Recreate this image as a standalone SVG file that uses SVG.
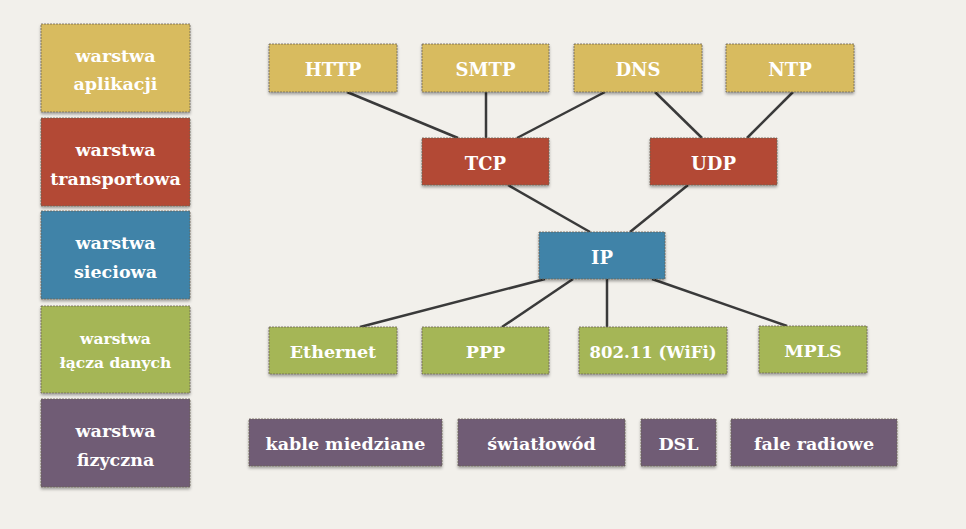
<svg xmlns="http://www.w3.org/2000/svg" width="966" height="529" viewBox="0 0 966 529">
<style>
.n{stroke:#6b6355;stroke-width:0.8;stroke-dasharray:2 1;filter:url(#sh)}
.t{font-family:"DejaVu Serif","Liberation Serif",serif;font-weight:bold;font-size:18px;fill:#fff;text-anchor:middle}
.s{font-size:17.5px}
.y{fill:#d8bb5e}.r{fill:#b34834}.b{fill:#3f83a8}.g{fill:#a5b656}.p{fill:#6f5c74}
#conn line{stroke:#3a3a3a;stroke-width:2.5}
</style>
<defs>
<filter id="sh" x="-10%" y="-10%" width="120%" height="130%">
<feGaussianBlur in="SourceAlpha" stdDeviation="1.5"/>
<feOffset dy="2" result="o"/>
<feComponentTransfer><feFuncA type="linear" slope="0.35"/></feComponentTransfer>
<feMerge><feMergeNode/><feMergeNode in="SourceGraphic"/></feMerge>
</filter>
</defs>
<rect width="966" height="529" fill="#f2f0eb"/>
<g id="conn">
<line x1="347" y1="92" x2="458" y2="138"/>
<line x1="486" y1="92" x2="486" y2="138"/>
<line x1="605" y1="92" x2="517" y2="138"/>
<line x1="655" y1="92" x2="702" y2="138"/>
<line x1="793" y1="92" x2="747" y2="138"/>
<line x1="508" y1="185" x2="590" y2="232"/>
<line x1="688" y1="185" x2="630" y2="232"/>
<line x1="545" y1="279" x2="360" y2="327"/>
<line x1="573" y1="279" x2="502" y2="327"/>
<line x1="607" y1="279" x2="607" y2="327"/>
<line x1="652" y1="279" x2="787" y2="326"/>
</g>
<g id="l-app"><rect class="n y" x="41" y="24" width="149" height="88"/><text class="t s" x="115.5" y="62">warstwa</text><text class="t s" x="115.5" y="90">aplikacji</text></g>
<g id="l-tr"><rect class="n r" x="41" y="118" width="149" height="88"/><text class="t s" x="115.5" y="156">warstwa</text><text class="t s" x="115.5" y="185">transportowa</text></g>
<g id="l-net"><rect class="n b" x="41" y="211" width="149" height="88"/><text class="t s" x="115.5" y="249">warstwa</text><text class="t s" x="115.5" y="278">sieciowa</text></g>
<g id="l-dl"><rect class="n g" x="41" y="306" width="149" height="87"/><text class="t" style="font-size:15.5px" x="115.5" y="344">warstwa</text><text class="t" style="font-size:15.5px" x="115.5" y="368">łącza danych</text></g>
<g id="l-ph"><rect class="n p" x="41" y="399" width="149" height="88"/><text class="t s" x="115.5" y="437">warstwa</text><text class="t s" x="115.5" y="466">fizyczna</text></g>
<g id="http"><rect class="n y" x="269" y="44" width="128" height="48"/><text class="t" x="333" y="76">HTTP</text></g>
<g id="smtp"><rect class="n y" x="422" y="44" width="127" height="48"/><text class="t" x="485.5" y="76">SMTP</text></g>
<g id="dns"><rect class="n y" x="574" y="44" width="128" height="48"/><text class="t" x="638" y="76">DNS</text></g>
<g id="ntp"><rect class="n y" x="726" y="44" width="128" height="48"/><text class="t" x="790" y="76">NTP</text></g>
<g id="tcp"><rect class="n r" x="422" y="138" width="127" height="47"/><text class="t" x="485.5" y="170">TCP</text></g>
<g id="udp"><rect class="n r" x="650" y="138" width="127" height="47"/><text class="t" x="713.5" y="170">UDP</text></g>
<g id="ip"><rect class="n b" x="539" y="232" width="126" height="47"/><text class="t" x="602" y="264">IP</text></g>
<g id="eth"><rect class="n g" x="269" y="327" width="128" height="47"/><text class="t s" x="333" y="358">Ethernet</text></g>
<g id="ppp"><rect class="n g" x="422" y="327" width="127" height="47"/><text class="t s" x="485.5" y="358">PPP</text></g>
<g id="wifi"><rect class="n g" x="579" y="327" width="148" height="47"/><text class="t" style="font-size:16.5px" x="653" y="358">802.11 (WiFi)</text></g>
<g id="mpls"><rect class="n g" x="759" y="326" width="108" height="47"/><text class="t s" x="813" y="357">MPLS</text></g>
<g id="copper"><rect class="n p" x="249" y="419" width="193" height="47"/><text class="t s" x="345.5" y="450">kable miedziane</text></g>
<g id="fiber"><rect class="n p" x="458" y="419" width="167" height="47"/><text class="t s" x="541.5" y="450">światłowód</text></g>
<g id="dsl"><rect class="n p" x="641" y="419" width="75" height="47"/><text class="t s" x="678.5" y="450">DSL</text></g>
<g id="radio"><rect class="n p" x="731" y="419" width="166" height="47"/><text class="t s" x="814" y="450">fale radiowe</text></g>
</svg>
